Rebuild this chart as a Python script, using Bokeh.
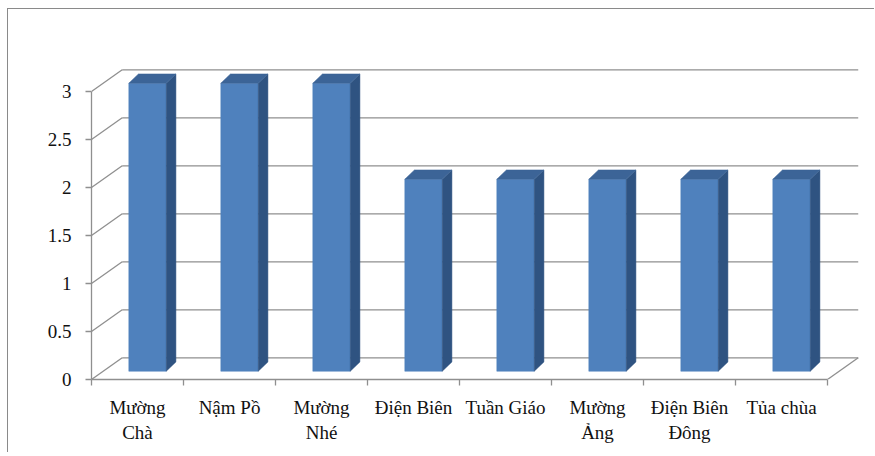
from bokeh.plotting import figure
from bokeh.models import FixedTicker, Range1d
from bokeh.embed import file_html
from bokeh.resources import INLINE

# ---- data ----
categories = ["Mường Chà", "Nậm Pồ", "Mường Nhé", "Điện Biên",
              "Tuần Giáo", "Mường Ảng", "Điện Biên Đông", "Tủa chùa"]
category_labels = ["Mường\nChà", "Nậm Pồ", "Mường\nNhé", "Điện Biên",
                   "Tuần Giáo", "Mường\nẢng", "Điện Biên\nĐông", "Tủa chùa"]
values = [3, 3, 3, 2, 2, 2, 2, 2]
y_ticks = [0, 0.5, 1, 1.5, 2, 2.5, 3]
y_tick_labels = ["0", "0.5", "1", "1.5", "2", "2.5", "3"]

# ---- style / geometry constants ----
W, H = 867, 444
ML, MB = 83, 74
PX_X, PX_Y = 92.0, 96.0
WALL_DX, WALL_DY = 0.334, 0.226      # depth of back wall (data units)
BAR_SX, BAR_SY = 0.109, 0.086        # position of bar front face in depth
BAR_W = 0.407
BAR_DX, BAR_DY = 0.105, 0.097        # bar depth
GRID = "#8f8f8f"
FRONT, SIDE, TOP = "#4F81BD", "#2F5381", "#3C6497"
FONT = "Liberation Serif"

n = len(categories)
centers = [i + 0.5 for i in range(n)]
bounds = list(range(n + 1))
ymax = max(y_ticks)

p = figure(width=W, height=H,
           x_range=Range1d(0, (W - ML) / PX_X),
           y_range=Range1d(0, (H - MB) / PX_Y),
           output_backend="svg", toolbar_location=None,
           min_border_left=ML, min_border_right=0,
           min_border_top=0, min_border_bottom=MB)
p.outline_line_color = None
p.xgrid.visible = False
p.ygrid.visible = False
p.background_fill_color = "white"
p.border_fill_color = "white"
p.styles = {"border-left": "1px solid #8a8a8a", "border-top": "1px solid #8a8a8a",
            "margin-left": "7px", "margin-top": "8px"}

# back wall gridlines
p.multi_line(xs=[[WALL_DX, n + WALL_DX] for _ in y_ticks],
             ys=[[v + WALL_DY, v + WALL_DY] for v in y_ticks],
             line_color=GRID, line_width=1.3)
# side wall diagonals
p.multi_line(xs=[[0, WALL_DX] for _ in y_ticks],
             ys=[[v, v + WALL_DY] for v in y_ticks],
             line_color=GRID, line_width=1.3)
# floor right edge
p.segment(x0=[n], y0=[0], x1=[n + WALL_DX], y1=[WALL_DY],
          line_color=GRID, line_width=1.3)

# bars
L = [c + BAR_SX - BAR_W / 2 for c in centers]
R = [c + BAR_SX + BAR_W / 2 for c in centers]
B = [BAR_SY] * n
T = [v + BAR_SY for v in values]
p.quad(left=L, right=R, bottom=B, top=T, fill_color=FRONT, line_color=FRONT, line_width=0.5)
p.patches(xs=[[r, r + BAR_DX, r + BAR_DX, r] for r in R],
          ys=[[b, b + BAR_DY, t + BAR_DY, t] for b, t in zip(B, T)],
          fill_color=SIDE, line_color=SIDE, line_width=0.5)
p.patches(xs=[[l, l + BAR_DX, r + BAR_DX, r] for l, r in zip(L, R)],
          ys=[[t, t + BAR_DY, t + BAR_DY, t] for t in T],
          fill_color=TOP, line_color=TOP, line_width=0.5)

# x axis
xa = p.xaxis[0]
xa.bounds = (0, n)
xa.ticker = FixedTicker(ticks=centers, minor_ticks=bounds)
xa.major_label_overrides = {c: lab for c, lab in zip(centers, category_labels)}
xa.axis_line_color = GRID
xa.axis_line_width = 1.3
xa.major_tick_line_color = None
xa.major_tick_out = 0
xa.major_tick_in = 0
xa.minor_tick_line_color = GRID
xa.minor_tick_line_width = 1.3
xa.minor_tick_out = 6
xa.minor_tick_in = 0
xa.major_label_standoff = 11
xa.major_label_text_font = FONT
xa.major_label_text_font_size = "19px"
xa.major_label_text_color = "#111111"
xa.major_label_orientation = "horizontal"

# y axis
ya = p.yaxis[0]
ya.bounds = (0, ymax)
ya.ticker = FixedTicker(ticks=y_ticks, minor_ticks=[])
ya.major_label_overrides = {v: s for v, s in zip(y_ticks, y_tick_labels)}
ya.axis_line_color = GRID
ya.axis_line_width = 1.3
ya.major_tick_line_color = GRID
ya.major_tick_line_width = 1.3
ya.major_tick_out = 6
ya.major_tick_in = 0
ya.minor_tick_line_color = None
ya.major_label_standoff = 14
ya.major_label_text_font = FONT
ya.major_label_text_font_size = "19px"
ya.major_label_text_color = "#111111"

open("out.html", "w").write(file_html(p, INLINE))
